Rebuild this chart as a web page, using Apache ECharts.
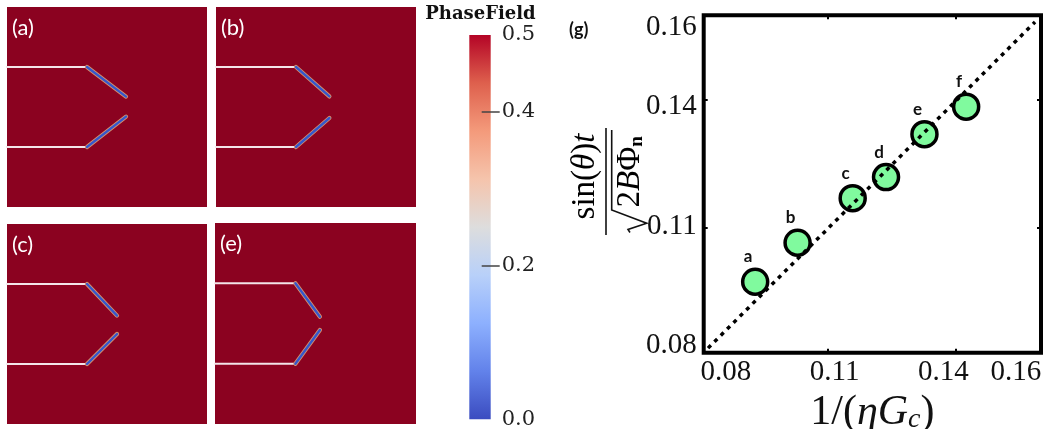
<!DOCTYPE html>
<html><head><meta charset="utf-8">
<script src="https://cdn.jsdelivr.net/npm/echarts@6/dist/echarts.min.js"></script>
<style>html,body{margin:0;padding:0;background:#fff}#c{width:1050px;height:429px}</style>
</head><body><div id="c"></div>
<script>
// ---- phase-field panels (fractions of panel size, y measured from top) ----
const panelLabels = ['(a)', '(b)', '(c)', '(e)'];
const notchY = [0.30, 0.70];
const kinkX = [0.40, 0.40, 0.40, 0.40];
const tipX = [0.595, 0.567, 0.550, 0.522];
const upperTipY = [0.448, 0.447, 0.458, 0.466];
const lowerTipY = [0.548, 0.555, 0.550, 0.532];

// ---- colour bar ----
const phaseFieldMax = 0.5;
const colorbarLabels = [0.0, 0.2, 0.4, 0.5];
const colorbarTicks = [0.2, 0.4];

// ---- panel (g) ----
const pointNames = ['a', 'b', 'c', 'd', 'e', 'f'];
const invEtaGc = [0.0881, 0.0998, 0.1150, 0.1242, 0.1348, 0.1463];
const scaledSin = [0.0960, 0.1058, 0.1170, 0.1223, 0.1331, 0.1400];
const xTickLabels = [0.08, 0.11, 0.14, 0.16];
const yTickLabels = [0.08, 0.11, 0.14, 0.16];
const xTickMarks = [0.1082, 0.1435];
const yTickMarks = [0.1095, 0.1417];
const guideX = [0.0751, 0.1653];
const guideY = [0.0793, 0.1613];
const xRange = [0.0739, 0.16695];
const yRange = [0.07815, 0.16298];

// ---- layout ----
const panelBoxes = [
  {left: 7, top: 7, width: 200, height: 200},
  {left: 216, top: 7, width: 200, height: 200},
  {left: 7, top: 224, width: 200, height: 200},
  {left: 215, top: 223, width: 201, height: 201}
];
const mainBox = {left: 703.7, top: 15.3, width: 337.3, height: 337.4};
const cbBox = {left: 469.3, top: 35, width: 21.4, height: 384.3};

const PANEL_BG = '#8b0220';
const WHITE_CRACK = '#f3e4e8';
const BLUE = '#3558cc';
const FRINGE = '#d4906e';

const coolwarm = [
  [0, '#B40426'], [0.125, '#DE604D'], [0.25, '#F49A7B'], [0.375, '#F5C4AC'],
  [0.5, '#DDDDDD'], [0.625, '#B8D0F9'], [0.75, '#8DB0FE'], [0.875, '#6282EA'], [1, '#3B4CC0']
];

const grids = [], xAxes = [], yAxes = [], series = [];
panelBoxes.forEach((b, i) => {
  grids.push(Object.assign({show: true, backgroundColor: PANEL_BG, borderWidth: 0, outerBoundsMode: 'none', containLabel: false}, b));
  xAxes.push({gridIndex: i, type: 'value', min: 0, max: 1, show: false});
  yAxes.push({gridIndex: i, type: 'value', min: 0, max: 1, inverse: true, show: false});
  const seg = (pts, color, width, z) => series.push({
    type: 'line', xAxisIndex: i, yAxisIndex: i, data: pts, symbol: 'none', silent: true,
    z: z, lineStyle: {color: color, width: width, cap: 'round'}
  });
  notchY.forEach(ny => seg([[0, ny], [kinkX[i], ny]], WHITE_CRACK, 2, 2));
  const diagU = [[kinkX[i], notchY[0]], [tipX[i], upperTipY[i]]];
  const diagL = [[kinkX[i], notchY[1]], [tipX[i], lowerTipY[i]]];
  [diagU, diagL].forEach(d => { seg(d, FRINGE, 4.2, 3); seg(d, BLUE, 2.4, 4); });
});

// colour bar grid (index 4)
grids.push(Object.assign({show: false, outerBoundsMode: 'none', containLabel: false}, cbBox));
xAxes.push({gridIndex: 4, type: 'category', data: ['PhaseField'], show: false});
yAxes.push({
  gridIndex: 4, type: 'value', min: 0, max: phaseFieldMax, position: 'right', offset: -9, z: 10,
  axisLine: {show: false}, splitLine: {show: false},
  axisTick: {show: true, customValues: colorbarTicks, length: 18, lineStyle: {color: '#444', width: 1.5}},
  axisLabel: {customValues: colorbarLabels, formatter: v => v.toFixed(1), margin: 20,
    fontFamily: 'DejaVu Serif', fontSize: 21, color: '#222'}
});
series.push({
  type: 'bar', xAxisIndex: 4, yAxisIndex: 4, data: [phaseFieldMax], barWidth: '100%', silent: true,
  itemStyle: {color: new echarts.graphic.LinearGradient(0, 0, 0, 1,
    coolwarm.map(s => ({offset: s[0], color: s[1]})))}
});

// main panel (g) grid (index 5)
grids.push(Object.assign({show: true, borderColor: '#000', borderWidth: 4, backgroundColor: 'transparent',
  outerBoundsMode: 'none', containLabel: false}, mainBox));
const mathRich = {
  n: {fontFamily: 'Liberation Serif', fontSize: 42, color: '#111'},
  i: {fontFamily: 'Liberation Serif', fontStyle: 'italic', fontSize: 42, color: '#111'},
  s: {fontFamily: 'Liberation Serif', fontStyle: 'italic', fontSize: 28, color: '#111', verticalAlign: 'bottom', lineHeight: 28}
};
xAxes.push({
  gridIndex: 5, type: 'value', min: xRange[0], max: xRange[1], position: 'bottom',
  axisLine: {show: false}, splitLine: {show: false},
  axisTick: {show: true, inside: true, customValues: xTickMarks, length: 4, lineStyle: {color: '#000', width: 2}},
  axisLabel: {customValues: xTickLabels, formatter: v => v.toFixed(2), margin: 5,
    fontFamily: 'Liberation Serif', fontSize: 29, color: '#111'},
  name: '{n|1/(}{i|ηG}{s|c}{n|)}', nameLocation: 'middle', nameGap: 31,
  nameTextStyle: {rich: mathRich}
});
xAxes.push({
  gridIndex: 5, type: 'value', min: xRange[0], max: xRange[1], position: 'top',
  axisLine: {show: false}, splitLine: {show: false}, axisLabel: {show: false},
  axisTick: {show: true, inside: true, customValues: xTickMarks, length: 4, lineStyle: {color: '#000', width: 2}}
});
yAxes.push({
  gridIndex: 5, type: 'value', min: yRange[0], max: yRange[1], position: 'left',
  axisLine: {show: false}, splitLine: {show: false},
  axisTick: {show: true, inside: true, customValues: yTickMarks, length: 4, lineStyle: {color: '#000', width: 2}},
  axisLabel: {customValues: yTickLabels, formatter: v => v.toFixed(2), margin: 7,
    fontFamily: 'Liberation Serif', fontSize: 29, color: '#111'}
});
yAxes.push({
  gridIndex: 5, type: 'value', min: yRange[0], max: yRange[1], position: 'right',
  axisLine: {show: false}, splitLine: {show: false}, axisLabel: {show: false},
  axisTick: {show: true, inside: true, customValues: yTickMarks, length: 4, lineStyle: {color: '#000', width: 2}}
});

series.push({
  type: 'scatter', xAxisIndex: 5, yAxisIndex: 5, z: 3,
  data: invEtaGc.map((x, k) => ({name: pointNames[k], value: [x, scaledSin[k]]})),
  symbol: 'circle', symbolSize: 25,
  itemStyle: {color: '#80fa9e', borderColor: '#000', borderWidth: 3.5, opacity: 1},
  label: {show: true, position: 'top', distance: 2, offset: [-7, 0], formatter: p => p.name,
    fontFamily: 'Lato', fontWeight: 'bold', fontSize: 17, color: '#111'}
});
series.push({
  type: 'line', xAxisIndex: 5, yAxisIndex: 5, z: 5, symbol: 'none', silent: true,
  data: guideX.map((x, k) => [x, guideY[k]]),
  lineStyle: {color: '#000', width: 3.5, type: [4, 5], cap: 'butt'}
});

// y-axis title of (g): sin(θ)t / sqrt(2BΦn), rotated
const yTitle = {
  type: 'group', x: 606, y: 181.5, rotation: Math.PI / 2, silent: true,
  children: [
    {type: 'text', x: 5, y: -21, style: {
      text: '{n|sin(}{i|θ}{n|)}{i|t}', align: 'center', verticalAlign: 'middle',
      rich: {n: {fontFamily: 'Liberation Serif', fontSize: 33, color: '#111'},
             i: {fontFamily: 'Liberation Serif', fontStyle: 'italic', fontSize: 33, color: '#111'}}}},
    {type: 'line', shape: {x1: -53.5, y1: 0, x2: 53.5, y2: 0}, style: {stroke: '#111', lineWidth: 1.6}},
    {type: 'polyline', shape: {points: [[-51, 24], [-48, 22], [-41.8, 40.7], [-28.5, 5.7], [51.5, 5.7]]},
      style: {stroke: '#111', lineWidth: 1.6, fill: null}},
    {type: 'text', x: -26, y: 24, style: {
      text: '{n|2}{i|B}{n|Φ}{s|n}', align: 'left', verticalAlign: 'middle',
      rich: {n: {fontFamily: 'Liberation Serif', fontSize: 33, color: '#111', lineHeight: 34},
             i: {fontFamily: 'Liberation Serif', fontStyle: 'italic', fontSize: 33, color: '#111', lineHeight: 34},
             s: {fontFamily: 'Liberation Serif', fontWeight: 'bold', fontSize: 19, color: '#111', verticalAlign: 'bottom', lineHeight: 20}}}}
  ]
};

const graphics = [yTitle,
  {type: 'text', x: 569, y: 30, silent: true, style: {text: '(g)', fontFamily: 'Lato', fontWeight: 'bold', fontSize: 18, fill: '#111', verticalAlign: 'middle'}},
  {type: 'text', x: 480.5, y: 14, silent: true, style: {text: 'PhaseField', fontFamily: 'DejaVu Serif', fontWeight: 'bold', fontSize: 18, fill: '#111', align: 'center', verticalAlign: 'middle'}}
];
panelBoxes.forEach((b, i) => graphics.push({
  type: 'text', x: b.left + 5, y: b.top + 21, z: 50, silent: true,
  style: {text: panelLabels[i], fontFamily: 'Lato', fontSize: 22, fill: '#fff', verticalAlign: 'middle'}
}));

const chart = echarts.init(document.getElementById('c'), null, {renderer: 'canvas'});
chart.setOption({
  animation: false,
  backgroundColor: '#fff',
  grid: grids, xAxis: xAxes, yAxis: yAxes, series: series, graphic: graphics
});
</script></body></html>
